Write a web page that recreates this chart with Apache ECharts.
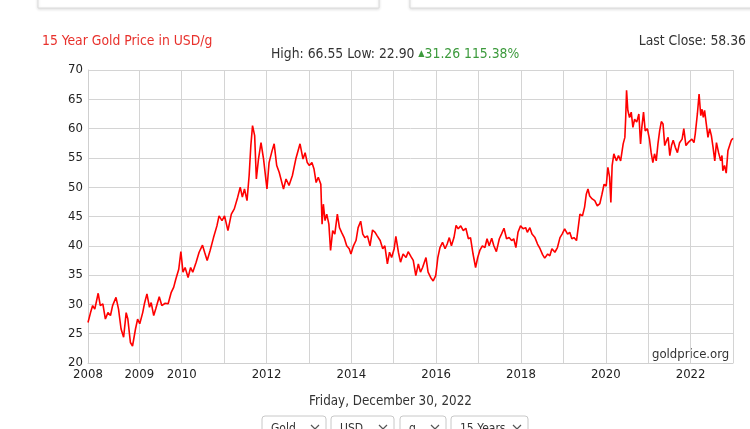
<!DOCTYPE html>
<html>
<head>
<meta charset="utf-8">
<script src="https://cdn.jsdelivr.net/npm/echarts/dist/echarts.min.js"></script>
<style>
  html, body { margin: 0; padding: 0; background: #fff; }
  #chart { width: 750px; height: 429px; }
</style>
</head>
<body>
<div id="chart"></div>
<script>
// gold price, USD per gram (decimal years)
var dates = [
  2007.79, 2007.85, 2007.90, 2007.95, 2008.03, 2008.08, 2008.14, 2008.20, 2008.26, 2008.32,
  2008.37, 2008.45, 2008.51, 2008.57, 2008.63, 2008.69, 2008.73, 2008.79, 2008.84, 2008.91,
  2008.96, 2009.01, 2009.08, 2009.12, 2009.18, 2009.24, 2009.28, 2009.34, 2009.39, 2009.47,
  2009.53, 2009.61, 2009.68, 2009.75, 2009.81, 2009.86, 2009.93, 2009.98, 2010.03, 2010.08,
  2010.15, 2010.21, 2010.26, 2010.34, 2010.41, 2010.49, 2010.54, 2010.60, 2010.67, 2010.75,
  2010.83, 2010.88, 2010.95, 2011.01, 2011.09, 2011.17, 2011.24, 2011.32, 2011.38, 2011.43,
  2011.48, 2011.54, 2011.59, 2011.63, 2011.67, 2011.72, 2011.76, 2011.81, 2011.87, 2011.93,
  2012.01, 2012.06, 2012.13, 2012.18, 2012.24, 2012.30, 2012.40, 2012.46, 2012.53, 2012.61,
  2012.69, 2012.79, 2012.86, 2012.91, 2012.96, 2013.01, 2013.07, 2013.12, 2013.17, 2013.22,
  2013.28, 2013.31, 2013.34, 2013.38, 2013.42, 2013.47, 2013.51, 2013.56, 2013.61, 2013.67,
  2013.72, 2013.77, 2013.83, 2013.89, 2013.95, 2013.99, 2014.05, 2014.11, 2014.16, 2014.22,
  2014.27, 2014.32, 2014.38, 2014.44, 2014.50, 2014.56, 2014.61, 2014.68, 2014.74, 2014.79,
  2014.85, 2014.90, 2014.95, 2015.01, 2015.05, 2015.11, 2015.16, 2015.22, 2015.29, 2015.34,
  2015.41, 2015.46, 2015.52, 2015.58, 2015.63, 2015.68, 2015.76, 2015.81, 2015.87, 2015.93,
  2015.99, 2016.04, 2016.09, 2016.15, 2016.21, 2016.26, 2016.31, 2016.36, 2016.42, 2016.47,
  2016.52, 2016.58, 2016.64, 2016.70, 2016.76, 2016.81, 2016.87, 2016.93, 2016.98, 2017.03,
  2017.09, 2017.15, 2017.20, 2017.25, 2017.31, 2017.36, 2017.42, 2017.49, 2017.54, 2017.60,
  2017.66, 2017.72, 2017.78, 2017.83, 2017.88, 2017.93, 2017.99, 2018.05, 2018.11, 2018.15,
  2018.21, 2018.26, 2018.33, 2018.39, 2018.45, 2018.51, 2018.56, 2018.63, 2018.68, 2018.73,
  2018.80, 2018.86, 2018.92, 2018.97, 2019.03, 2019.10, 2019.15, 2019.20, 2019.25, 2019.31,
  2019.35, 2019.39, 2019.45, 2019.50, 2019.54, 2019.58, 2019.62, 2019.68, 2019.74, 2019.80,
  2019.86, 2019.91, 2019.96, 2020.01, 2020.05, 2020.09, 2020.12, 2020.15, 2020.19, 2020.25,
  2020.30, 2020.35, 2020.41, 2020.45, 2020.47, 2020.49, 2020.52, 2020.56, 2020.60, 2020.64,
  2020.68, 2020.73, 2020.78, 2020.82, 2020.85, 2020.89, 2020.93, 2020.98, 2021.03, 2021.07,
  2021.11, 2021.15, 2021.19, 2021.23, 2021.27, 2021.31, 2021.35, 2021.39, 2021.43, 2021.47,
  2021.51, 2021.55, 2021.59, 2021.64, 2021.69, 2021.74, 2021.80, 2021.84, 2021.89, 2021.94,
  2021.98, 2022.03, 2022.08, 2022.11, 2022.16, 2022.20, 2022.24, 2022.27, 2022.30, 2022.33,
  2022.37, 2022.41, 2022.45, 2022.49, 2022.53, 2022.57, 2022.61, 2022.66, 2022.71, 2022.74,
  2022.76, 2022.80, 2022.84, 2022.88, 2022.92, 2022.96, 2023.00
];
var prices = [
  26.9, 28.6, 29.8, 29.2, 31.9, 29.8, 30.1, 27.5, 28.6, 28.1,
  29.8, 31.2, 29.2, 25.8, 24.4, 28.6, 27.5, 23.5, 22.9, 25.8,
  27.5, 26.7, 28.6, 30.1, 31.8, 29.5, 30.3, 28.1, 29.3, 31.3,
  29.8, 30.2, 30.1, 32.0, 32.9, 34.3, 36.0, 39.0, 35.5, 36.3,
  34.6, 36.3, 35.5, 37.2, 38.9, 40.1, 38.9, 37.5, 39.2, 41.4,
  43.4, 45.1, 44.3, 45.1, 42.6, 45.4, 46.3, 48.3, 50.0, 48.3,
  49.7, 47.7, 52.0, 57.1, 60.5, 58.8, 51.4, 54.8, 57.6, 54.8,
  49.7, 54.2, 56.2, 57.4, 53.7, 52.5, 49.7, 51.4, 50.3, 52.0,
  54.8, 57.4, 54.8, 55.9, 54.2, 53.7, 54.2, 53.1, 50.8, 51.7,
  50.5, 43.7, 47.1, 44.3, 45.4, 43.7, 39.2, 42.6, 42.0, 45.4,
  43.1, 42.3, 41.4, 40.0, 39.5, 38.6, 40.0, 40.9, 43.1, 44.2,
  42.0, 41.4, 41.7, 40.0, 42.7, 42.3, 41.7, 40.9, 39.5, 40.0,
  36.9, 38.9, 38.0, 39.5, 41.6, 38.9, 37.2, 38.6, 38.0, 39.0,
  38.1, 37.5, 34.9, 36.9, 35.5, 36.3, 38.0, 35.5, 34.6, 34.0,
  34.9, 38.0, 39.7, 40.6, 39.5, 40.3, 41.4, 40.0, 41.4, 43.5,
  42.9, 43.4, 42.6, 43.0, 41.2, 41.4, 38.6, 36.3, 38.0, 39.2,
  40.0, 39.7, 41.2, 40.0, 41.3, 40.0, 39.0, 41.2, 42.0, 43.0,
  41.2, 41.4, 40.9, 41.2, 39.7, 42.3, 43.4, 42.9, 43.1, 42.3,
  43.1, 42.0, 41.4, 40.3, 39.5, 38.5, 37.9, 38.6, 38.3, 39.5,
  38.9, 39.7, 41.4, 42.0, 42.9, 42.0, 42.3, 41.2, 41.4, 40.9,
  43.1, 45.4, 45.1, 46.6, 48.8, 49.7, 48.5, 48.0, 47.7, 46.8,
  47.2, 48.8, 50.5, 50.2, 53.4, 51.7, 47.4, 53.7, 55.7, 54.5,
  55.4, 54.5, 57.4, 58.5, 61.9, 66.55, 63.1, 61.9, 62.8, 60.2,
  61.6, 61.1, 62.5, 57.4, 60.2, 62.8, 59.6, 60.0, 58.2, 55.9,
  54.2, 55.7, 54.5, 57.4, 59.6, 61.2, 60.8, 57.1, 57.9, 58.5,
  55.4, 57.1, 58.0, 56.8, 55.9, 57.6, 58.2, 60.0, 57.1, 57.6,
  57.4, 58.2, 57.6, 59.1, 62.5, 65.9, 62.2, 63.3, 61.9, 63.1,
  60.8, 58.5, 60.0, 58.8, 56.8, 54.5, 57.6, 55.9, 54.5, 55.4,
  52.8, 53.7, 52.4, 56.2, 57.1, 58.0, 58.36
];

// yearly grid lines and the years that get a label
var gridYears = [2009, 2010, 2011, 2012, 2013, 2014, 2015, 2016, 2017, 2018, 2019, 2020, 2021, 2022, 2023];
var labelYears = [2007.79, 2009, 2010, 2012, 2014, 2016, 2018, 2020, 2022];

var selects = [
  { text: 'Gold', x: 262, w: 64 },
  { text: 'USD', x: 331, w: 63 },
  { text: 'g', x: 400, w: 46 },
  { text: '15 Years', x: 451, w: 77 }
];

var FONT = "'DejaVu Sans Condensed', 'DejaVu Sans', Verdana, sans-serif";

var myChart = echarts.init(document.getElementById('chart'), null, { renderer: 'canvas' });

var data = dates.map(function (d, i) { return [d, prices[i]]; });

var graphics = [
  // top panels, cut by the top edge
  { type: 'rect', shape: { x: 38, y: -12, width: 341, height: 20 },
    style: { fill: '#fff', stroke: '#dcdcdc', lineWidth: 1, shadowBlur: 3, shadowColor: 'rgba(0,0,0,0.12)', shadowOffsetY: 1 } },
  { type: 'rect', shape: { x: 410, y: -12, width: 360, height: 20 },
    style: { fill: '#fff', stroke: '#dcdcdc', lineWidth: 1, shadowBlur: 3, shadowColor: 'rgba(0,0,0,0.12)', shadowOffsetY: 1 } },
  { type: 'text', left: 42, top: 34,
    style: { text: '15 Year Gold Price in USD/g', fill: '#e8312c', font: '13.8px ' + FONT } },
  { type: 'text', right: 4, top: 34,
    style: { text: 'Last Close: 58.36', fill: '#333', font: '13.8px ' + FONT } },
  { type: 'text', left: 271, top: 47,
    style: {
      text: '{a|High: 66.55 Low: 22.90 }{t|▲}{g|31.26 115.38%}',
      rich: {
        a: { fill: '#333', font: '13.8px ' + FONT },
        t: { fill: '#3c9a3c', font: '9px ' + FONT },
        g: { fill: '#3c9a3c', font: '13.8px ' + FONT }
      }
    } },
  { type: 'text', left: 652, top: 348,
    style: { text: 'goldprice.org', fill: '#333', font: '13px ' + FONT } },
  { type: 'text', left: 309, top: 395,
    style: { text: 'Friday, December 30, 2022', fill: '#333', font: '13.3px ' + FONT } }
];

selects.forEach(function (s) {
  graphics.push({ type: 'rect', shape: { x: s.x, y: 416, width: s.w, height: 26, r: 3 },
    style: { fill: '#fff', stroke: '#c8c8c8', lineWidth: 1 } });
  graphics.push({ type: 'text', left: s.x + 9, top: 423,
    style: { text: s.text, fill: '#333', font: '12px ' + FONT } });
  var cx = s.x + s.w - 11;
  graphics.push({ type: 'polyline', shape: { points: [[cx - 4, 425], [cx, 429], [cx + 4, 425]] },
    style: { stroke: '#555', lineWidth: 1.2, fill: null } });
});

var options = {
  animation: false,
  backgroundColor: '#fff',
  grid: { left: 88, right: 17, top: 70, bottom: 66, containLabel: false },
  xAxis: {
    type: 'value',
    min: 2007.79,
    max: 2023,
    axisLine: { show: true, lineStyle: { color: '#cfcfcf' } },
    axisTick: { show: false, customValues: gridYears },
    splitLine: { show: true, lineStyle: { color: '#d4d4d4', width: 1 } },
    axisLabel: {
      customValues: labelYears,
      margin: 5,
      color: '#222',
      fontSize: 13,
      fontFamily: FONT,
      formatter: function (v) { return String(Math.ceil(v - 0.001)); }
    }
  },
  yAxis: {
    type: 'value',
    min: 20,
    max: 70,
    interval: 5,
    axisLine: { show: true, lineStyle: { color: '#cfcfcf' } },
    axisTick: { show: false },
    splitLine: { show: true, lineStyle: { color: '#d4d4d4', width: 1 } },
    axisLabel: { margin: 5, color: '#222', fontSize: 13, fontFamily: FONT }
  },
  series: [
    {
      type: 'line',
      data: data,
      showSymbol: false,
      symbol: 'none',
      lineStyle: { color: '#ff0000', width: 1.6 },
      z: 3
    }
  ],
  graphic: graphics
};

myChart.setOption(options);
</script>
</body>
</html>
